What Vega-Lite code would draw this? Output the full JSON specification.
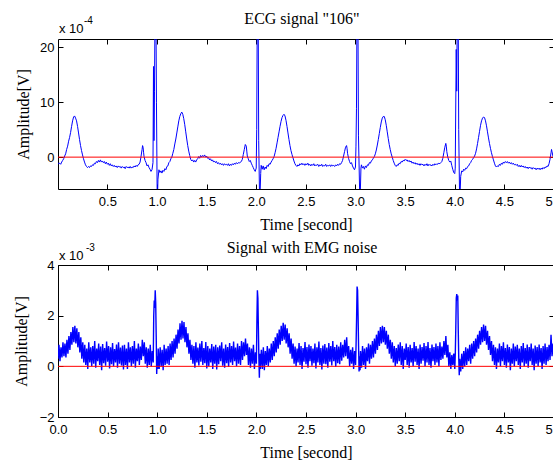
{
"$schema": "https://vega.github.io/schema/vega-lite/v6.json",
"autosize": {"type": "pad"},
"padding": {"left": 12, "top": 10, "right": 0, "bottom": 0},
"background": "white",
"spacing": 76,
"bounds": "flush",
"config": {
  "view": {"stroke": "#000", "strokeWidth": 1},
  "font": "Liberation Sans",
  "axis": {"domain": false, "grid": false, "tickSize": -5, "tickColor": "#000", "tickWidth": 1,
    "labelFont": "Liberation Sans", "labelFontSize": 13, "labelColor": "#000", "labelFlush": false, "labelOverlap": false,
    "titleFont": "Liberation Serif", "titleFontSize": 16, "titleFontWeight": "normal", "titleColor": "#000"},
  "title": {"font": "Liberation Serif", "fontSize": 16, "fontWeight": "normal", "color": "#000", "anchor": "middle", "dx": -4, "frame": "group"}
},
"datasets": {
"ecg": [
{"t":0.003,"v":-1.0},{"t":0.01,"v":-1.2},{"t":0.02,"v":-1.1},{"t":0.03,"v":-1.3},{"t":0.04,"v":-0.9},{"t":0.05,"v":-0.6},{"t":0.06,"v":-0.3},{"t":0.07,"v":0.2},{"t":0.08,"v":0.6},{"t":0.09,"v":1.4},
{"t":0.10,"v":2.0},{"t":0.11,"v":2.9},{"t":0.12,"v":3.6},{"t":0.13,"v":4.5},{"t":0.14,"v":5.6},{"t":0.15,"v":6.6},{"t":0.16,"v":7.3},{"t":0.17,"v":7.5},{"t":0.18,"v":7.1},{"t":0.19,"v":6.6},
{"t":0.20,"v":5.6},{"t":0.21,"v":4.4},{"t":0.22,"v":3.2},{"t":0.23,"v":2.1},{"t":0.24,"v":1.2},{"t":0.25,"v":0.4},{"t":0.26,"v":-0.3},{"t":0.27,"v":-0.9},{"t":0.28,"v":-1.4},{"t":0.29,"v":-1.7},
{"t":0.30,"v":-1.9},{"t":0.31,"v":-1.7},{"t":0.32,"v":-1.9},{"t":0.33,"v":-1.6},{"t":0.34,"v":-1.7},{"t":0.35,"v":-1.4},{"t":0.36,"v":-1.5},{"t":0.37,"v":-1.1},{"t":0.38,"v":-1.2},{"t":0.39,"v":-0.8},
{"t":0.40,"v":-1.0},{"t":0.41,"v":-0.6},{"t":0.42,"v":-0.9},{"t":0.43,"v":-0.5},{"t":0.44,"v":-0.9},{"t":0.45,"v":-0.7},{"t":0.46,"v":-1.0},{"t":0.47,"v":-0.8},{"t":0.48,"v":-1.2},{"t":0.49,"v":-0.9},
{"t":0.50,"v":-1.3},{"t":0.51,"v":-1.1},{"t":0.52,"v":-1.5},{"t":0.53,"v":-1.2},{"t":0.54,"v":-1.6},{"t":0.55,"v":-1.4},{"t":0.56,"v":-1.7},{"t":0.57,"v":-1.5},{"t":0.58,"v":-1.8},{"t":0.59,"v":-1.6},
{"t":0.60,"v":-1.9},{"t":0.61,"v":-1.6},{"t":0.62,"v":-1.8},{"t":0.63,"v":-1.7},{"t":0.64,"v":-2.0},{"t":0.65,"v":-1.7},{"t":0.66,"v":-1.9},{"t":0.67,"v":-1.8},{"t":0.68,"v":-2.1},{"t":0.69,"v":-1.7},
{"t":0.70,"v":-1.9},{"t":0.71,"v":-1.8},{"t":0.72,"v":-2.0},{"t":0.73,"v":-1.7},{"t":0.74,"v":-2.0},{"t":0.75,"v":-1.8},{"t":0.76,"v":-1.9},{"t":0.77,"v":-1.6},{"t":0.78,"v":-1.8},{"t":0.79,"v":-1.5},
{"t":0.80,"v":-1.7},{"t":0.81,"v":-1.4},{"t":0.82,"v":-1.3},{"t":0.83,"v":-0.9},{"t":0.84,"v":0.2},{"t":0.85,"v":1.4},{"t":0.855,"v":2.1},{"t":0.86,"v":1.8},{"t":0.865,"v":0.9},{"t":0.87,"v":0.1},
{"t":0.88,"v":-0.6},{"t":0.89,"v":-1.0},{"t":0.90,"v":-1.6},{"t":0.91,"v":-1.4},{"t":0.92,"v":-1.9},{"t":0.93,"v":-2.2},{"t":0.94,"v":-2.6},{"t":0.95,"v":-2.3},{"t":0.96,"v":-1.0},{"t":0.965,"v":16.5},
{"t":0.97,"v":3.0},{"t":0.975,"v":12.0},{"t":0.98,"v":25.0},{"t":0.99,"v":25.0},{"t":0.995,"v":10.0},{"t":1.003,"v":-9.0},{"t":1.01,"v":-4.0},{"t":1.02,"v":-2.3},{"t":1.03,"v":-2.8},{"t":1.04,"v":-2.5},
{"t":1.05,"v":-2.9},{"t":1.06,"v":-2.4},{"t":1.07,"v":-2.6},{"t":1.08,"v":-2.1},{"t":1.09,"v":-2.3},{"t":1.10,"v":-1.7},{"t":1.11,"v":-1.6},{"t":1.12,"v":-1.0},{"t":1.13,"v":-0.8},{"t":1.14,"v":-0.3},
{"t":1.15,"v":0.0},{"t":1.16,"v":0.7},{"t":1.17,"v":1.4},{"t":1.18,"v":2.4},{"t":1.19,"v":3.3},{"t":1.20,"v":4.4},{"t":1.21,"v":5.5},{"t":1.22,"v":6.6},{"t":1.23,"v":7.4},{"t":1.24,"v":7.9},
{"t":1.25,"v":8.2},{"t":1.26,"v":7.8},{"t":1.27,"v":7.0},{"t":1.28,"v":5.9},{"t":1.29,"v":4.6},{"t":1.30,"v":3.3},{"t":1.31,"v":2.1},{"t":1.32,"v":1.1},{"t":1.33,"v":0.3},{"t":1.34,"v":-0.4},
{"t":1.35,"v":-0.7},{"t":1.36,"v":-0.5},{"t":1.37,"v":-0.9},{"t":1.38,"v":-0.6},{"t":1.39,"v":-0.9},{"t":1.40,"v":-0.5},{"t":1.41,"v":-0.3},{"t":1.42,"v":0.1},{"t":1.43,"v":-0.2},{"t":1.44,"v":0.3},
{"t":1.45,"v":0.0},{"t":1.46,"v":0.3},{"t":1.47,"v":0.1},{"t":1.48,"v":0.4},{"t":1.49,"v":0.0},{"t":1.50,"v":0.2},{"t":1.51,"v":-0.2},{"t":1.52,"v":-0.1},{"t":1.53,"v":-0.5},{"t":1.54,"v":-0.3},
{"t":1.55,"v":-0.7},{"t":1.56,"v":-0.5},{"t":1.57,"v":-0.9},{"t":1.58,"v":-0.7},{"t":1.59,"v":-1.0},{"t":1.60,"v":-0.8},{"t":1.61,"v":-1.2},{"t":1.62,"v":-1.0},{"t":1.63,"v":-1.3},{"t":1.64,"v":-1.1},
{"t":1.65,"v":-1.4},{"t":1.66,"v":-1.2},{"t":1.67,"v":-1.5},{"t":1.68,"v":-1.2},{"t":1.69,"v":-1.4},{"t":1.70,"v":-1.3},{"t":1.71,"v":-1.5},{"t":1.72,"v":-1.2},{"t":1.73,"v":-1.6},{"t":1.74,"v":-1.3},
{"t":1.75,"v":-1.5},{"t":1.76,"v":-1.2},{"t":1.77,"v":-1.4},{"t":1.78,"v":-1.1},{"t":1.79,"v":-1.3},{"t":1.80,"v":-1.0},{"t":1.81,"v":-1.2},{"t":1.82,"v":-1.0},{"t":1.83,"v":-1.1},{"t":1.84,"v":-0.9},
{"t":1.85,"v":-0.8},{"t":1.86,"v":-0.4},{"t":1.87,"v":0.5},{"t":1.88,"v":1.4},{"t":1.89,"v":2.3},{"t":1.90,"v":2.0},{"t":1.905,"v":1.1},{"t":1.91,"v":0.2},{"t":1.92,"v":-0.3},{"t":1.93,"v":-0.8},
{"t":1.94,"v":-0.6},{"t":1.95,"v":-1.1},{"t":1.96,"v":-1.5},{"t":1.97,"v":-1.9},{"t":1.98,"v":-2.3},{"t":1.99,"v":-2.6},{"t":2.00,"v":-2.0},{"t":2.005,"v":5.0},{"t":2.01,"v":25.0},{"t":2.02,"v":25.0},
{"t":2.025,"v":3.0},{"t":2.035,"v":-9.0},{"t":2.045,"v":-3.0},{"t":2.05,"v":-1.5},{"t":2.06,"v":-2.2},{"t":2.07,"v":-1.6},{"t":2.08,"v":-2.3},{"t":2.09,"v":-1.8},{"t":2.10,"v":-2.1},{"t":2.11,"v":-1.5},
{"t":2.12,"v":-1.7},{"t":2.13,"v":-1.2},{"t":2.14,"v":-1.3},{"t":2.15,"v":-0.9},{"t":2.16,"v":-0.6},{"t":2.17,"v":-0.3},{"t":2.18,"v":0.1},{"t":2.19,"v":0.8},{"t":2.20,"v":1.6},{"t":2.21,"v":2.6},
{"t":2.22,"v":3.6},{"t":2.23,"v":4.6},{"t":2.24,"v":5.6},{"t":2.25,"v":6.5},{"t":2.26,"v":7.2},{"t":2.27,"v":7.6},{"t":2.28,"v":7.8},{"t":2.29,"v":7.5},{"t":2.30,"v":6.7},{"t":2.31,"v":5.6},
{"t":2.32,"v":4.4},{"t":2.33,"v":3.2},{"t":2.34,"v":2.1},{"t":2.35,"v":1.2},{"t":2.36,"v":0.5},{"t":2.37,"v":-0.1},{"t":2.38,"v":-0.7},{"t":2.39,"v":-1.2},{"t":2.40,"v":-1.5},{"t":2.41,"v":-1.7},
{"t":2.42,"v":-1.4},{"t":2.43,"v":-1.6},{"t":2.44,"v":-1.2},{"t":2.45,"v":-1.4},{"t":2.46,"v":-1.1},{"t":2.47,"v":-1.4},{"t":2.48,"v":-1.2},{"t":2.49,"v":-1.5},{"t":2.50,"v":-1.2},{"t":2.51,"v":-1.4},
{"t":2.52,"v":-1.1},{"t":2.53,"v":-1.5},{"t":2.54,"v":-1.3},{"t":2.55,"v":-1.6},{"t":2.56,"v":-1.3},{"t":2.57,"v":-1.5},{"t":2.58,"v":-1.2},{"t":2.59,"v":-1.6},{"t":2.60,"v":-1.4},{"t":2.61,"v":-1.5},
{"t":2.62,"v":-1.3},{"t":2.63,"v":-1.7},{"t":2.64,"v":-1.4},{"t":2.65,"v":-1.6},{"t":2.66,"v":-1.3},{"t":2.67,"v":-1.7},{"t":2.68,"v":-1.5},{"t":2.69,"v":-1.6},{"t":2.70,"v":-1.3},{"t":2.71,"v":-1.7},
{"t":2.72,"v":-1.5},{"t":2.73,"v":-1.6},{"t":2.74,"v":-1.4},{"t":2.75,"v":-1.7},{"t":2.76,"v":-1.4},{"t":2.77,"v":-1.6},{"t":2.78,"v":-1.5},{"t":2.79,"v":-1.7},{"t":2.80,"v":-1.4},{"t":2.81,"v":-1.6},
{"t":2.82,"v":-1.3},{"t":2.83,"v":-1.5},{"t":2.84,"v":-1.2},{"t":2.85,"v":-1.3},{"t":2.86,"v":-1.0},{"t":2.87,"v":-0.6},{"t":2.88,"v":0.2},{"t":2.89,"v":1.0},{"t":2.90,"v":1.8},{"t":2.91,"v":2.1},
{"t":2.915,"v":1.6},{"t":2.92,"v":0.7},{"t":2.93,"v":-0.2},{"t":2.94,"v":-0.8},{"t":2.95,"v":-1.2},{"t":2.96,"v":-1.0},{"t":2.97,"v":-1.6},{"t":2.98,"v":-2.0},{"t":2.99,"v":-2.3},{"t":3.00,"v":-1.8},
{"t":3.005,"v":2.0},{"t":3.01,"v":8.8},{"t":3.015,"v":25.0},{"t":3.025,"v":25.0},{"t":3.03,"v":4.0},{"t":3.045,"v":-9.0},{"t":3.055,"v":-2.0},{"t":3.06,"v":-1.4},{"t":3.07,"v":-2.0},{"t":3.08,"v":-1.7},
{"t":3.09,"v":-2.2},{"t":3.10,"v":-1.6},{"t":3.11,"v":-1.9},{"t":3.12,"v":-1.4},{"t":3.13,"v":-1.5},{"t":3.14,"v":-1.0},{"t":3.15,"v":-1.1},{"t":3.16,"v":-0.7},{"t":3.17,"v":-0.5},{"t":3.18,"v":-0.2},
{"t":3.19,"v":0.1},{"t":3.20,"v":0.6},{"t":3.21,"v":1.3},{"t":3.22,"v":2.2},{"t":3.23,"v":3.2},{"t":3.24,"v":4.3},{"t":3.25,"v":5.4},{"t":3.26,"v":6.4},{"t":3.27,"v":7.1},{"t":3.28,"v":7.4},
{"t":3.29,"v":7.4},{"t":3.30,"v":6.8},{"t":3.31,"v":5.8},{"t":3.32,"v":4.6},{"t":3.33,"v":3.4},{"t":3.34,"v":2.3},{"t":3.35,"v":1.4},{"t":3.36,"v":0.6},{"t":3.37,"v":0.0},{"t":3.38,"v":-0.6},
{"t":3.39,"v":-1.1},{"t":3.40,"v":-1.5},{"t":3.41,"v":-1.7},{"t":3.42,"v":-1.4},{"t":3.43,"v":-1.5},{"t":3.44,"v":-1.1},{"t":3.45,"v":-1.2},{"t":3.46,"v":-0.8},{"t":3.47,"v":-0.9},{"t":3.48,"v":-0.6},
{"t":3.49,"v":-0.7},{"t":3.50,"v":-0.4},{"t":3.51,"v":-0.6},{"t":3.52,"v":-0.5},{"t":3.53,"v":-0.8},{"t":3.54,"v":-0.6},{"t":3.55,"v":-0.9},{"t":3.56,"v":-0.7},{"t":3.57,"v":-1.1},{"t":3.58,"v":-0.9},
{"t":3.59,"v":-1.2},{"t":3.60,"v":-1.0},{"t":3.61,"v":-1.3},{"t":3.62,"v":-1.1},{"t":3.63,"v":-1.4},{"t":3.64,"v":-1.2},{"t":3.65,"v":-1.5},{"t":3.66,"v":-1.2},{"t":3.67,"v":-1.4},{"t":3.68,"v":-1.3},
{"t":3.69,"v":-1.6},{"t":3.70,"v":-1.3},{"t":3.71,"v":-1.5},{"t":3.72,"v":-1.2},{"t":3.73,"v":-1.6},{"t":3.74,"v":-1.3},{"t":3.75,"v":-1.5},{"t":3.76,"v":-1.4},{"t":3.77,"v":-1.6},{"t":3.78,"v":-1.3},
{"t":3.79,"v":-1.5},{"t":3.80,"v":-1.2},{"t":3.81,"v":-1.4},{"t":3.82,"v":-1.2},{"t":3.83,"v":-1.3},{"t":3.84,"v":-1.1},{"t":3.85,"v":-1.2},{"t":3.86,"v":-1.0},{"t":3.87,"v":-0.8},{"t":3.88,"v":-0.2},
{"t":3.89,"v":0.8},{"t":3.90,"v":1.8},{"t":3.91,"v":2.5},{"t":3.915,"v":2.0},{"t":3.92,"v":1.0},{"t":3.93,"v":0.0},{"t":3.94,"v":-0.6},{"t":3.95,"v":-0.9},{"t":3.96,"v":-0.7},{"t":3.97,"v":-1.5},
{"t":3.98,"v":-2.2},{"t":3.99,"v":-2.8},{"t":4.00,"v":-3.0},{"t":4.005,"v":-2.0},{"t":4.015,"v":19.6},{"t":4.02,"v":12.0},{"t":4.025,"v":25.0},{"t":4.035,"v":25.0},{"t":4.04,"v":5.0},{"t":4.05,"v":-9.0},
{"t":4.06,"v":-3.5},{"t":4.07,"v":-2.5},{"t":4.08,"v":-2.7},{"t":4.09,"v":-2.2},{"t":4.10,"v":-2.4},{"t":4.11,"v":-2.0},{"t":4.12,"v":-2.1},{"t":4.13,"v":-1.7},{"t":4.14,"v":-1.6},{"t":4.15,"v":-1.2},
{"t":4.16,"v":-1.0},{"t":4.17,"v":-0.6},{"t":4.18,"v":-0.4},{"t":4.19,"v":-0.1},{"t":4.20,"v":0.2},{"t":4.21,"v":0.7},{"t":4.22,"v":1.5},{"t":4.23,"v":2.5},{"t":4.24,"v":3.6},{"t":4.25,"v":4.7},
{"t":4.26,"v":5.8},{"t":4.27,"v":6.6},{"t":4.28,"v":7.1},{"t":4.29,"v":7.3},{"t":4.30,"v":7.2},{"t":4.31,"v":6.6},{"t":4.32,"v":5.7},{"t":4.33,"v":4.6},{"t":4.34,"v":3.5},{"t":4.35,"v":2.5},
{"t":4.36,"v":1.6},{"t":4.37,"v":0.8},{"t":4.38,"v":0.1},{"t":4.39,"v":-0.5},{"t":4.40,"v":-1.1},{"t":4.41,"v":-1.6},{"t":4.42,"v":-1.8},{"t":4.43,"v":-1.6},{"t":4.44,"v":-1.7},{"t":4.45,"v":-1.3},
{"t":4.46,"v":-1.5},{"t":4.47,"v":-1.1},{"t":4.48,"v":-1.3},{"t":4.49,"v":-0.9},{"t":4.50,"v":-1.1},{"t":4.51,"v":-0.8},{"t":4.52,"v":-1.0},{"t":4.53,"v":-0.8},{"t":4.54,"v":-1.1},{"t":4.55,"v":-0.9},
{"t":4.56,"v":-1.2},{"t":4.57,"v":-1.0},{"t":4.58,"v":-1.3},{"t":4.59,"v":-1.1},{"t":4.60,"v":-1.4},{"t":4.61,"v":-1.3},{"t":4.62,"v":-1.5},{"t":4.63,"v":-1.3},{"t":4.64,"v":-1.7},{"t":4.65,"v":-1.5},
{"t":4.66,"v":-1.8},{"t":4.67,"v":-1.5},{"t":4.68,"v":-1.8},{"t":4.69,"v":-1.6},{"t":4.70,"v":-1.9},{"t":4.71,"v":-1.7},{"t":4.72,"v":-2.0},{"t":4.73,"v":-1.8},{"t":4.74,"v":-2.1},{"t":4.75,"v":-1.8},
{"t":4.76,"v":-2.0},{"t":4.77,"v":-1.9},{"t":4.78,"v":-2.2},{"t":4.79,"v":-1.9},{"t":4.80,"v":-2.1},{"t":4.81,"v":-2.0},{"t":4.82,"v":-2.3},{"t":4.83,"v":-2.0},{"t":4.84,"v":-2.2},{"t":4.85,"v":-2.0},
{"t":4.86,"v":-2.3},{"t":4.87,"v":-2.0},{"t":4.88,"v":-2.2},{"t":4.89,"v":-1.9},{"t":4.90,"v":-2.1},{"t":4.91,"v":-1.8},{"t":4.92,"v":-1.9},{"t":4.93,"v":-1.6},{"t":4.94,"v":-1.7},{"t":4.95,"v":-1.2},
{"t":4.96,"v":-0.4},{"t":4.97,"v":0.8},{"t":4.975,"v":1.4},{"t":4.98,"v":1.0},{"t":4.99,"v":0.1},{"t":5.00,"v":-0.3}
],
"emg": [
{"t":0.00,"v":0.30},{"t":0.01,"v":0.85},{"t":0.02,"v":0.20},{"t":0.03,"v":0.75},{"t":0.04,"v":0.35},{"t":0.05,"v":0.95},{"t":0.06,"v":0.40},{"t":0.07,"v":0.90},
{"t":0.08,"v":0.35},{"t":0.09,"v":1.05},{"t":0.10,"v":0.50},{"t":0.11,"v":1.20},{"t":0.12,"v":0.65},{"t":0.13,"v":1.35},{"t":0.14,"v":0.85},{"t":0.15,"v":1.55},{"t":0.16,"v":0.95},{"t":0.17,"v":1.60},{"t":0.18,"v":0.90},{"t":0.19,"v":1.50},{"t":0.20,"v":0.75},{"t":0.21,"v":1.35},{"t":0.22,"v":0.55},{"t":0.23,"v":1.15},{"t":0.24,"v":0.30},{"t":0.25,"v":0.95},{"t":0.26,"v":0.15},
{"t":0.27,"v":0.85},{"t":0.28,"v":0.05},{"t":0.29,"v":0.70},{"t":0.30,"v":-0.10},{"t":0.31,"v":0.95},{"t":0.32,"v":0.15},{"t":0.33,"v":0.75},{"t":0.34,"v":0.00},{"t":0.35,"v":0.80},{"t":0.36,"v":0.10},{"t":0.37,"v":1.00},{"t":0.38,"v":-0.05},{"t":0.39,"v":0.70},{"t":0.40,"v":0.20},{"t":0.41,"v":0.90},{"t":0.42,"v":0.05},{"t":0.43,"v":0.78},{"t":0.44,"v":-0.15},{"t":0.45,"v":0.88},{"t":0.46,"v":0.12},{"t":0.47,"v":0.72},{"t":0.48,"v":0.02},{"t":0.49,"v":0.98},{"t":0.50,"v":0.18},{"t":0.51,"v":0.80},{"t":0.52,"v":-0.08},{"t":0.53,"v":0.75},{"t":0.54,"v":0.08},{"t":0.55,"v":0.92},{"t":0.56,"v":0.00},{"t":0.57,"v":0.68},{"t":0.58,"v":0.15},{"t":0.59,"v":0.86},{"t":0.60,"v":-0.05},{"t":0.61,"v":0.95},{"t":0.62,"v":0.10},{"t":0.63,"v":0.74},{"t":0.64,"v":0.03},{"t":0.65,"v":0.82},{"t":0.66,"v":-0.12},{"t":0.67,"v":0.85},{"t":0.68,"v":0.05},{"t":0.69,"v":0.70},{"t":0.70,"v":-0.10},{"t":0.71,"v":0.95},{"t":0.72,"v":0.15},{"t":0.73,"v":0.75},{"t":0.74,"v":0.00},{"t":0.75,"v":0.80},{"t":0.76,"v":0.10},{"t":0.77,"v":1.00},{"t":0.78,"v":-0.05},{"t":0.79,"v":0.70},{"t":0.80,"v":0.20},{"t":0.81,"v":0.90},{"t":0.82,"v":0.05},{"t":0.83,"v":0.78},
{"t":0.84,"v":0.25},{"t":0.85,"v":1.05},{"t":0.86,"v":0.40},{"t":0.87,"v":0.95},{"t":0.88,"v":0.10},
{"t":0.89,"v":0.75},{"t":0.90,"v":-0.05},{"t":0.91,"v":0.70},{"t":0.92,"v":0.05},{"t":0.93,"v":0.85},{"t":0.94,"v":0.00},{"t":0.95,"v":0.60},{"t":0.96,"v":0.15},
{"t":0.965,"v":2.0},{"t":0.97,"v":2.6},{"t":0.975,"v":2.3},{"t":0.98,"v":3.0},{"t":0.985,"v":2.5},{"t":0.99,"v":1.2},{"t":0.995,"v":-0.3},{"t":1.00,"v":0.4},{"t":1.005,"v":-0.1},
{"t":1.01,"v":0.70},{"t":1.02,"v":-0.10},{"t":1.03,"v":0.75},{"t":1.04,"v":0.00},{"t":1.05,"v":0.65},{"t":1.06,"v":-0.15},{"t":1.07,"v":0.85},{"t":1.08,"v":0.05},{"t":1.09,"v":0.70},{"t":1.10,"v":0.10},{"t":1.11,"v":0.80},{"t":1.12,"v":0.05},{"t":1.13,"v":0.90},{"t":1.14,"v":0.25},
{"t":1.15,"v":1.00},{"t":1.16,"v":0.35},{"t":1.17,"v":1.10},{"t":1.18,"v":0.50},{"t":1.19,"v":1.25},{"t":1.20,"v":0.70},{"t":1.21,"v":1.45},{"t":1.22,"v":0.90},{"t":1.23,"v":1.70},{"t":1.24,"v":1.05},{"t":1.25,"v":1.80},{"t":1.26,"v":1.10},{"t":1.27,"v":1.75},{"t":1.28,"v":0.95},{"t":1.29,"v":1.55},{"t":1.30,"v":0.75},{"t":1.31,"v":1.30},{"t":1.32,"v":0.50},{"t":1.33,"v":1.05},{"t":1.34,"v":0.25},
{"t":1.35,"v":0.85},{"t":1.36,"v":0.10},{"t":1.37,"v":0.80},{"t":1.38,"v":-0.05},{"t":1.39,"v":0.95},{"t":1.40,"v":0.15},{"t":1.41,"v":0.74},{"t":1.42,"v":0.03},{"t":1.43,"v":0.90},{"t":1.44,"v":0.18},{"t":1.45,"v":1.00},{"t":1.46,"v":0.05},{"t":1.47,"v":0.72},{"t":1.48,"v":0.12},{"t":1.49,"v":0.96},{"t":1.50,"v":-0.08},{"t":1.51,"v":0.80},{"t":1.52,"v":0.00},{"t":1.53,"v":0.70},{"t":1.54,"v":0.15},{"t":1.55,"v":0.88},{"t":1.56,"v":-0.10},{"t":1.57,"v":0.78},{"t":1.58,"v":0.10},{"t":1.59,"v":0.85},{"t":1.60,"v":-0.12},{"t":1.61,"v":0.75},{"t":1.62,"v":0.08},{"t":1.63,"v":0.82},{"t":1.64,"v":0.20},{"t":1.65,"v":0.95},{"t":1.66,"v":0.02},{"t":1.67,"v":0.70},{"t":1.68,"v":-0.05},{"t":1.69,"v":0.86},{"t":1.70,"v":0.12},{"t":1.71,"v":0.76},{"t":1.72,"v":-0.02},{"t":1.73,"v":0.92},{"t":1.74,"v":0.15},{"t":1.75,"v":0.80},{"t":1.76,"v":0.05},{"t":1.77,"v":0.98},{"t":1.78,"v":0.20},{"t":1.79,"v":0.74},{"t":1.80,"v":0.00},{"t":1.81,"v":0.90},{"t":1.82,"v":0.10},{"t":1.83,"v":0.80},{"t":1.84,"v":0.05},{"t":1.85,"v":1.00},{"t":1.86,"v":0.25},
{"t":1.87,"v":0.95},{"t":1.88,"v":0.40},{"t":1.89,"v":1.10},{"t":1.90,"v":0.45},{"t":1.91,"v":0.90},
{"t":1.92,"v":0.05},{"t":1.93,"v":0.75},{"t":1.94,"v":-0.05},{"t":1.95,"v":0.70},{"t":1.96,"v":0.10},{"t":1.97,"v":0.85},{"t":1.98,"v":-0.10},{"t":1.99,"v":0.55},
{"t":2.00,"v":0.10},{"t":2.005,"v":1.8},{"t":2.01,"v":3.0},{"t":2.015,"v":2.7},{"t":2.02,"v":1.5},{"t":2.025,"v":0.3},{"t":2.03,"v":-0.45},{"t":2.035,"v":0.5},{"t":2.04,"v":-0.1},
{"t":2.05,"v":0.65},{"t":2.06,"v":-0.10},{"t":2.07,"v":0.75},{"t":2.08,"v":-0.15},{"t":2.09,"v":0.60},{"t":2.10,"v":0.05},{"t":2.11,"v":0.80},{"t":2.12,"v":0.00},{"t":2.13,"v":0.70},{"t":2.14,"v":0.15},{"t":2.15,"v":0.90},{"t":2.16,"v":0.25},{"t":2.17,"v":1.00},
{"t":2.18,"v":0.40},{"t":2.19,"v":1.15},{"t":2.20,"v":0.55},{"t":2.21,"v":1.30},{"t":2.22,"v":0.70},{"t":2.23,"v":1.45},{"t":2.24,"v":0.85},{"t":2.25,"v":1.60},{"t":2.26,"v":1.00},{"t":2.27,"v":1.72},{"t":2.28,"v":1.05},{"t":2.29,"v":1.65},{"t":2.30,"v":0.90},{"t":2.31,"v":1.50},{"t":2.32,"v":0.75},{"t":2.33,"v":1.30},{"t":2.34,"v":0.50},{"t":2.35,"v":1.10},{"t":2.36,"v":0.30},{"t":2.37,"v":0.90},{"t":2.38,"v":0.10},
{"t":2.39,"v":0.78},{"t":2.40,"v":0.00},{"t":2.41,"v":0.70},{"t":2.42,"v":0.15},{"t":2.43,"v":0.92},{"t":2.44,"v":0.05},{"t":2.45,"v":0.80},{"t":2.46,"v":-0.10},{"t":2.47,"v":0.72},{"t":2.48,"v":0.18},{"t":2.49,"v":0.96},{"t":2.50,"v":0.08},{"t":2.51,"v":0.76},{"t":2.52,"v":-0.05},{"t":2.53,"v":0.86},{"t":2.54,"v":0.20},{"t":2.55,"v":0.80},{"t":2.56,"v":0.02},{"t":2.57,"v":0.70},{"t":2.58,"v":0.12},{"t":2.59,"v":0.90},{"t":2.60,"v":-0.08},{"t":2.61,"v":0.75},{"t":2.62,"v":0.15},{"t":2.63,"v":0.98},{"t":2.64,"v":0.05},{"t":2.65,"v":0.72},{"t":2.66,"v":-0.12},{"t":2.67,"v":0.82},{"t":2.68,"v":0.10},{"t":2.69,"v":0.88},{"t":2.70,"v":0.08},{"t":2.71,"v":0.74},{"t":2.72,"v":-0.05},{"t":2.73,"v":0.92},{"t":2.74,"v":0.18},{"t":2.75,"v":0.80},{"t":2.76,"v":0.03},{"t":2.77,"v":1.00},{"t":2.78,"v":0.20},{"t":2.79,"v":0.76},{"t":2.80,"v":-0.02},{"t":2.81,"v":0.85},{"t":2.82,"v":0.12},{"t":2.83,"v":0.78},{"t":2.84,"v":0.08},{"t":2.85,"v":0.95},{"t":2.86,"v":0.22},
{"t":2.87,"v":0.85},{"t":2.88,"v":0.35},{"t":2.89,"v":1.05},{"t":2.90,"v":0.40},{"t":2.91,"v":1.15},{"t":2.92,"v":0.30},
{"t":2.93,"v":0.80},{"t":2.94,"v":0.00},{"t":2.95,"v":0.65},{"t":2.96,"v":0.10},{"t":2.97,"v":0.75},{"t":2.98,"v":-0.10},{"t":2.99,"v":0.60},{"t":3.00,"v":0.05},
{"t":3.005,"v":0.9},{"t":3.01,"v":1.9},{"t":3.015,"v":3.15},{"t":3.02,"v":3.0},{"t":3.025,"v":2.0},{"t":3.03,"v":0.8},{"t":3.035,"v":-0.2},{"t":3.04,"v":0.4},{"t":3.045,"v":-0.15},
{"t":3.05,"v":0.60},{"t":3.06,"v":-0.05},{"t":3.07,"v":0.80},{"t":3.08,"v":0.05},{"t":3.09,"v":0.70},{"t":3.10,"v":-0.10},{"t":3.11,"v":0.75},{"t":3.12,"v":0.20},{"t":3.13,"v":0.90},{"t":3.14,"v":0.10},{"t":3.15,"v":0.85},{"t":3.16,"v":0.30},{"t":3.17,"v":1.00},{"t":3.18,"v":0.35},
{"t":3.19,"v":1.10},{"t":3.20,"v":0.50},{"t":3.21,"v":1.25},{"t":3.22,"v":0.65},{"t":3.23,"v":1.40},{"t":3.24,"v":0.80},{"t":3.25,"v":1.55},{"t":3.26,"v":0.90},{"t":3.27,"v":1.60},{"t":3.28,"v":0.95},{"t":3.29,"v":1.55},{"t":3.30,"v":0.85},{"t":3.31,"v":1.40},{"t":3.32,"v":0.70},{"t":3.33,"v":1.25},{"t":3.34,"v":0.50},{"t":3.35,"v":1.05},{"t":3.36,"v":0.30},{"t":3.37,"v":0.95},{"t":3.38,"v":0.15},
{"t":3.39,"v":0.80},{"t":3.40,"v":0.00},{"t":3.41,"v":0.72},{"t":3.42,"v":0.10},{"t":3.43,"v":0.86},{"t":3.44,"v":0.20},{"t":3.45,"v":0.95},{"t":3.46,"v":0.05},{"t":3.47,"v":0.80},{"t":3.48,"v":-0.10},{"t":3.49,"v":0.70},{"t":3.50,"v":0.25},{"t":3.51,"v":0.90},{"t":3.52,"v":0.05},{"t":3.53,"v":0.76},{"t":3.54,"v":-0.05},{"t":3.55,"v":0.85},{"t":3.56,"v":0.15},{"t":3.57,"v":0.72},{"t":3.58,"v":0.00},{"t":3.59,"v":0.96},{"t":3.60,"v":0.18},{"t":3.61,"v":0.80},{"t":3.62,"v":0.05},{"t":3.63,"v":0.70},{"t":3.64,"v":-0.10},{"t":3.65,"v":0.86},{"t":3.66,"v":0.10},{"t":3.67,"v":0.76},{"t":3.68,"v":0.22},{"t":3.69,"v":0.92},{"t":3.70,"v":0.00},{"t":3.71,"v":0.80},{"t":3.72,"v":0.15},{"t":3.73,"v":0.96},{"t":3.74,"v":0.05},{"t":3.75,"v":0.72},{"t":3.76,"v":-0.05},{"t":3.77,"v":0.86},{"t":3.78,"v":0.20},{"t":3.79,"v":0.76},{"t":3.80,"v":0.05},{"t":3.81,"v":0.90},{"t":3.82,"v":0.15},{"t":3.83,"v":0.80},{"t":3.84,"v":0.00},{"t":3.85,"v":0.95},{"t":3.86,"v":0.25},{"t":3.87,"v":0.78},
{"t":3.88,"v":0.30},{"t":3.89,"v":1.00},{"t":3.90,"v":0.45},{"t":3.91,"v":1.20},{"t":3.92,"v":0.35},
{"t":3.93,"v":0.85},{"t":3.94,"v":0.00},{"t":3.95,"v":0.55},{"t":3.96,"v":-0.10},{"t":3.97,"v":0.45},{"t":3.98,"v":0.05},{"t":3.99,"v":0.50},{"t":4.00,"v":-0.10},
{"t":4.005,"v":0.5},{"t":4.01,"v":1.5},{"t":4.015,"v":2.7},{"t":4.02,"v":2.85},{"t":4.025,"v":2.6},{"t":4.03,"v":2.8},{"t":4.035,"v":1.4},{"t":4.04,"v":0.3},{"t":4.045,"v":-0.35},{"t":4.05,"v":0.3},
{"t":4.06,"v":-0.20},{"t":4.07,"v":0.50},{"t":4.08,"v":-0.10},{"t":4.09,"v":0.60},{"t":4.10,"v":0.00},{"t":4.11,"v":0.75},{"t":4.12,"v":0.05},{"t":4.13,"v":0.70},{"t":4.14,"v":0.20},{"t":4.15,"v":0.85},{"t":4.16,"v":0.10},{"t":4.17,"v":0.90},{"t":4.18,"v":0.30},{"t":4.19,"v":1.00},
{"t":4.20,"v":0.40},{"t":4.21,"v":1.10},{"t":4.22,"v":0.55},{"t":4.23,"v":1.25},{"t":4.24,"v":0.70},{"t":4.25,"v":1.40},{"t":4.26,"v":0.85},{"t":4.27,"v":1.55},{"t":4.28,"v":0.95},{"t":4.29,"v":1.65},{"t":4.30,"v":1.00},{"t":4.31,"v":1.60},{"t":4.32,"v":0.85},{"t":4.33,"v":1.40},{"t":4.34,"v":0.65},{"t":4.35,"v":1.20},{"t":4.36,"v":0.45},{"t":4.37,"v":1.00},{"t":4.38,"v":0.20},{"t":4.39,"v":0.85},
{"t":4.40,"v":0.05},{"t":4.41,"v":0.75},{"t":4.42,"v":-0.10},{"t":4.43,"v":0.70},{"t":4.44,"v":0.15},{"t":4.45,"v":0.90},{"t":4.46,"v":0.00},{"t":4.47,"v":0.80},{"t":4.48,"v":0.20},{"t":4.49,"v":0.95},{"t":4.50,"v":0.05},{"t":4.51,"v":0.72},{"t":4.52,"v":-0.05},{"t":4.53,"v":0.86},{"t":4.54,"v":0.15},{"t":4.55,"v":0.76},{"t":4.56,"v":-0.15},{"t":4.57,"v":0.70},{"t":4.58,"v":0.10},{"t":4.59,"v":0.90},{"t":4.60,"v":0.00},{"t":4.61,"v":0.78},{"t":4.62,"v":0.20},{"t":4.63,"v":0.85},{"t":4.64,"v":0.05},{"t":4.65,"v":0.70},{"t":4.66,"v":-0.10},{"t":4.67,"v":0.80},{"t":4.68,"v":0.15},{"t":4.69,"v":0.92},{"t":4.70,"v":0.00},{"t":4.71,"v":0.72},{"t":4.72,"v":0.10},{"t":4.73,"v":0.86},{"t":4.74,"v":-0.05},{"t":4.75,"v":0.76},{"t":4.76,"v":0.20},{"t":4.77,"v":0.90},{"t":4.78,"v":0.05},{"t":4.79,"v":0.70},{"t":4.80,"v":-0.15},{"t":4.81,"v":0.82},{"t":4.82,"v":0.10},{"t":4.83,"v":0.76},{"t":4.84,"v":0.00},{"t":4.85,"v":0.86},{"t":4.86,"v":0.15},{"t":4.87,"v":0.72},{"t":4.88,"v":-0.10},{"t":4.89,"v":0.80},{"t":4.90,"v":0.10},{"t":4.91,"v":0.90},{"t":4.92,"v":0.05},{"t":4.93,"v":0.76},{"t":4.94,"v":0.20},
{"t":4.95,"v":0.85},{"t":4.96,"v":0.25},{"t":4.97,"v":1.25},{"t":4.98,"v":0.40},{"t":4.99,"v":0.90},{"t":5.00,"v":0.25}
]
},
"vconcat": [
{
  "width": 496, "height": 150,
  "title": {"text": "ECG signal \"106\"", "offset": -11},
  "resolve": {"axis": {"x": "independent", "y": "independent"}},
  "layer": [
    {"data": {"name": "ecg"},
     "mark": {"type": "line", "color": "#0000ff", "strokeWidth": 1, "clip": true},
     "encoding": {
       "x": {"field": "t", "type": "quantitative", "scale": {"domain": [0.003, 5], "nice": false, "zero": false},
             "axis": {"orient": "bottom", "values": [0.5,1,1.5,2,2.5,3,3.5,4,4.5,5], "labelPadding": 11, "title": "Time [second]", "titlePadding": 8}},
       "y": {"field": "v", "type": "quantitative", "scale": {"domain": [-5.8, 21.5], "nice": false, "zero": false},
             "axis": {"orient": "left", "values": [0,10,20], "labelPadding": 9, "title": "Amplitude[V]", "titlePadding": 8}}
     }},
    {"data": {"values": [{}]},
     "mark": {"type": "rule", "color": "#ff0000", "strokeWidth": 1},
     "encoding": {
       "x": {"datum": 0.003, "type": "quantitative", "axis": {"orient": "top", "values": [0.5,1,1.5,2,2.5,3,3.5,4,4.5,5], "labels": false, "title": null}},
       "x2": {"datum": 5},
       "y": {"datum": 0, "type": "quantitative", "axis": {"orient": "right", "values": [0,10,20], "labels": false, "title": null}}
     }},
    {"data": {"values": [{}]},
     "mark": {"type": "text", "text": "x 10", "align": "left", "baseline": "alphabetic", "dx": 1, "dy": -6, "font": "Liberation Sans", "fontSize": 13, "color": "#000"},
     "encoding": {"x": {"datum": 0.003, "type": "quantitative", "axis": null}, "y": {"datum": 21.5, "type": "quantitative", "axis": null}}},
    {"data": {"values": [{}]},
     "mark": {"type": "text", "text": "-4", "align": "left", "baseline": "alphabetic", "dx": 26, "dy": -15, "font": "Liberation Sans", "fontSize": 10, "color": "#000"},
     "encoding": {"x": {"datum": 0.003, "type": "quantitative", "axis": null}, "y": {"datum": 21.5, "type": "quantitative", "axis": null}}}
  ]
},
{
  "width": 496, "height": 152,
  "title": {"text": "Signal with EMG noise", "offset": -13},
  "resolve": {"axis": {"x": "independent", "y": "independent"}},
  "layer": [
    {"data": {"name": "emg"},
     "mark": {"type": "line", "color": "#0000ff", "strokeWidth": 1.4, "clip": true},
     "encoding": {
       "x": {"field": "t", "type": "quantitative", "scale": {"domain": [0, 5], "nice": false, "zero": false},
             "axis": {"orient": "bottom", "values": [0,0.5,1,1.5,2,2.5,3,3.5,4,4.5,5], "labelPadding": 11, "title": "Time [second]", "titlePadding": 8}},
       "y": {"field": "v", "type": "quantitative", "scale": {"domain": [-2, 4], "nice": false, "zero": false},
             "axis": {"orient": "left", "values": [-2,0,2,4], "labelPadding": 9, "title": "Amplitude[V]", "titlePadding": 10}}
     }},
    {"data": {"values": [{}]},
     "mark": {"type": "rule", "color": "#ff0000", "strokeWidth": 1},
     "encoding": {
       "x": {"datum": 0, "type": "quantitative", "axis": {"orient": "top", "values": [0,0.5,1,1.5,2,2.5,3,3.5,4,4.5,5], "labels": false, "title": null}},
       "x2": {"datum": 5},
       "y": {"datum": 0, "type": "quantitative", "axis": {"orient": "right", "values": [-2,0,2,4], "labels": false, "title": null}}
     }},
    {"data": {"values": [{}]},
     "mark": {"type": "text", "text": "x 10", "align": "left", "baseline": "alphabetic", "dx": 1, "dy": -5, "font": "Liberation Sans", "fontSize": 13, "color": "#000"},
     "encoding": {"x": {"datum": 0, "type": "quantitative", "axis": null}, "y": {"datum": 4, "type": "quantitative", "axis": null}}},
    {"data": {"values": [{}]},
     "mark": {"type": "text", "text": "-3", "align": "left", "baseline": "alphabetic", "dx": 28, "dy": -14, "font": "Liberation Sans", "fontSize": 10, "color": "#000"},
     "encoding": {"x": {"datum": 0, "type": "quantitative", "axis": null}, "y": {"datum": 4, "type": "quantitative", "axis": null}}}
  ]
}
]
}
